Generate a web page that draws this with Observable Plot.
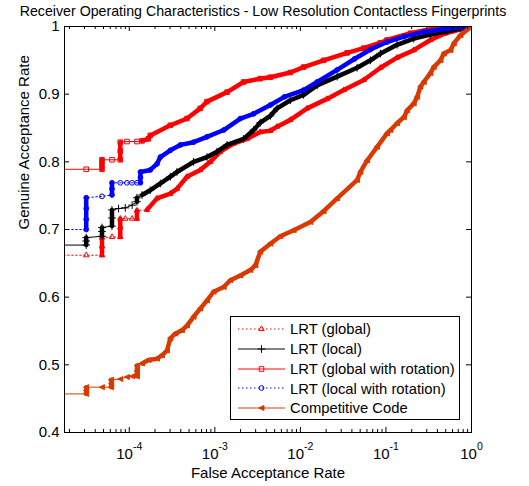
<!DOCTYPE html>
<html><head><meta charset="utf-8">
<script src="https://cdn.jsdelivr.net/npm/d3@7"></script>
<script src="https://cdn.jsdelivr.net/npm/@observablehq/plot@0.6"></script>
<style>body{margin:0;background:#fff;font-family:"Liberation Sans",Arial,sans-serif;}</style>
</head><body><div id="chart"></div>
<script>
// ---- data: [False Acceptance Rate, Genuine Acceptance Rate] ----
const lrtGlobal = [
 [1e-5,0.662],[3.14e-5,0.662],[4.80e-5,0.662],[4.80e-5,0.675],[4.80e-5,0.688],[6.28e-5,0.689],
 [7.85e-5,0.689],[7.85e-5,0.703],[7.85e-5,0.716],[8.98e-5,0.716],[1.08e-4,0.716],[1.23e-4,0.716],
 [1.23e-4,0.728],[1.61e-4,0.729],[2.11e-4,0.746],[3.02e-4,0.753],[3.61e-4,0.760],[4.73e-4,0.778],
 [6.76e-4,0.788],[8.85e-4,0.800],[1.16e-3,0.815],[1.66e-3,0.827],[2.38e-3,0.834],[3.40e-3,0.844],
 [4.46e-3,0.846],[5.34e-3,0.852],[7.64e-3,0.862],[1.20e-2,0.879],[2.05e-2,0.893],[3.21e-2,0.906],
 [5.50e-2,0.921],[8.63e-2,0.939],[0.135,0.954],[0.211,0.965],[0.331,0.980],[0.474,0.989],[1,1]
];
const lrtLocal = [
 [1e-5,0.677],[3.14e-5,0.677],[3.14e-5,0.683],[3.14e-5,0.688],[4.80e-5,0.690],[4.80e-5,0.697],
 [4.80e-5,0.703],[6.28e-5,0.705],[6.28e-5,0.717],[6.28e-5,0.729],[7.5e-5,0.731],[8.98e-5,0.732],
 [1.08e-4,0.736],[1.23e-4,0.741],[1.23e-4,0.747],[1.41e-4,0.751],[1.76e-4,0.758],[2.31e-4,0.768],
 [3.02e-4,0.778],[3.61e-4,0.785],[5.65e-4,0.800],[8.1e-4,0.807],[1.06e-3,0.815],[1.39e-3,0.825],
 [2.17e-3,0.834],[2.84e-3,0.847],[3.40e-3,0.858],[4.46e-3,0.868],[5.34e-3,0.879],[7.64e-3,0.891],
 [1.09e-2,0.899],[1.57e-2,0.913],[2.69e-2,0.926],[4.60e-2,0.939],[6.59e-2,0.950],[8.63e-2,0.960],
 [0.135,0.973],[0.211,0.982],[0.331,0.988],[0.52,0.993],[0.74,0.997],[1,1]
];
const lrtGlobalRot = [
 [1e-5,0.789],[3.14e-5,0.789],[4.80e-5,0.789],[4.80e-5,0.796],[4.80e-5,0.803],[6.28e-5,0.803],
 [7.85e-5,0.803],[7.85e-5,0.816],[7.85e-5,0.829],[9.4e-5,0.830],[1.23e-4,0.830],[1.41e-4,0.831],
 [1.67e-4,0.834],[1.76e-4,0.839],[3.02e-4,0.854],[4.73e-4,0.864],[6.76e-4,0.879],[8.1e-4,0.889],
 [1.39e-3,0.903],[2.17e-3,0.918],[3.40e-3,0.923],[4.46e-3,0.925],[7.64e-3,0.932],[1.09e-2,0.940],
 [1.87e-2,0.950],[3.52e-2,0.961],[5.50e-2,0.968],[8.63e-2,0.976],[0.103,0.980],[0.194,0.990],
 [0.362,0.997],[1,1]
];
const lrtLocalRot = [
 [1e-5,0.700],[3.14e-5,0.700],[3.14e-5,0.715],[3.14e-5,0.731],[3.14e-5,0.747],[4.80e-5,0.749],
 [6.28e-5,0.751],[6.28e-5,0.760],[6.28e-5,0.769],[7.85e-5,0.769],[9.4e-5,0.769],[1.08e-4,0.769],
 [1.23e-4,0.769],[1.35e-4,0.769],[1.35e-4,0.777],[1.35e-4,0.785],[1.76e-4,0.788],[2.11e-4,0.797],
 [2.31e-4,0.807],[3.02e-4,0.817],[3.95e-4,0.825],[5.65e-4,0.829],[8.1e-4,0.837],[1.27e-3,0.847],
 [1.99e-3,0.864],[2.84e-3,0.871],[4.46e-3,0.884],[6.5e-3,0.896],[1.09e-2,0.906],[1.57e-2,0.918],
 [2.69e-2,0.936],[4.28e-2,0.952],[6.59e-2,0.966],[0.103,0.977],[0.162,0.985],[0.277,0.992],
 [0.52,0.997],[1,1]
];
const competitiveCode = [
 [1e-5,0.457],[3.14e-5,0.457],[3.14e-5,0.462],[3.14e-5,0.467],[4.80e-5,0.467],[6.15e-5,0.467],
 [6.15e-5,0.472],[6.15e-5,0.478],[7.85e-5,0.479],[9.4e-5,0.482],[1.08e-4,0.483],[1.23e-4,0.483],
 [1.23e-4,0.491],[1.23e-4,0.499],[1.41e-4,0.502],[1.68e-4,0.507],[2.11e-4,0.509],[2.41e-4,0.514],
 [2.76e-4,0.521],[3.02e-4,0.539],[3.45e-4,0.546],[4.13e-4,0.551],[4.73e-4,0.558],[5.65e-4,0.571],
 [6.76e-4,0.583],[8.1e-4,0.595],[9.68e-4,0.608],[1.27e-3,0.615],[1.52e-3,0.625],[1.99e-3,0.632],
 [2.60e-3,0.640],[2.98e-3,0.647],[3.40e-3,0.667],[4.46e-3,0.679],[5.83e-3,0.690],[8.35e-3,0.699],
 [1.31e-2,0.711],[1.87e-2,0.727],[2.69e-2,0.746],[4.60e-2,0.773],[5.03e-2,0.785],[6.03e-2,0.802],
 [7.89e-2,0.822],[0.103,0.842],[0.113,0.847],[0.135,0.857],[0.162,0.866],[0.177,0.876],
 [0.211,0.886],[0.232,0.896],[0.253,0.911],[0.277,0.918],[0.331,0.931],[0.362,0.940],
 [0.434,0.950],[0.474,0.960],[0.568,0.965],[0.621,0.975],[0.743,0.987],[1,1]
];
const seriesNames = ["LRT (global)","LRT (local)","LRT (global with rotation)","LRT (local with rotation)","Competitive Code"];
const xMajorTicks = [1e-4,1e-3,1e-2,1e-1,1];
const xMinorTicks = [2e-5,3e-5,4e-5,5e-5,6e-5,7e-5,8e-5,9e-5,2e-4,3e-4,4e-4,5e-4,6e-4,7e-4,8e-4,9e-4,
 2e-3,3e-3,4e-3,5e-3,6e-3,7e-3,8e-3,9e-3,2e-2,3e-2,4e-2,5e-2,6e-2,7e-2,8e-2,9e-2,0.2,0.3,0.4,0.5,0.6,0.7,0.8,0.9];
const yTicks = [0.4,0.5,0.6,0.7,0.8,0.9,1];
const titleText = "Receiver Operating Characteristics - Low Resolution Contactless Fingerprints";
const xLabel = "False Acceptance Rate";
const yLabel = "Genuine Acceptance Rate";

// ---- styles ----
const leftTri = {draw(ctx, size){ const r = Math.sqrt(size/2); ctx.moveTo(-r,0); ctx.lineTo(r*0.9,-r*0.9); ctx.lineTo(r*0.9,r*0.9); ctx.closePath(); }};
const styles = [
 {color:"#ff0000", dash:"1.5,2.5", symbol:"triangle", fill:"none", r:2},
 {color:"#000000", dash:null, symbol:"plus", fill:"none", r:2.6},
 {color:"#ff0000", dash:null, symbol:"square", fill:"none", r:2.6},
 {color:"#0000ff", dash:"1.5,2.5", symbol:"circle", fill:"none", r:2.4},
 {color:"#d93a00", dash:null, symbol:leftTri, fill:"#d93a00", r:2.2}
];
const allSeries = [lrtGlobal, lrtLocal, lrtGlobalRot, lrtLocalRot, competitiveCode];

const W = 529, H = 486, mL = 64, mR = 58, mT = 26, mB = 54;
const fw = W - mL - mR, fh = H - mT - mB;
const font = '"Liberation Sans", Arial, sans-serif';

const marks = [];
allSeries.forEach((data, k) => {
  const s = styles[k];
  const pts = data.map(([far, gar]) => ({far, gar}));
  marks.push(Plot.line(pts, {x:"far", y:"gar", stroke:s.color, strokeWidth:1, strokeDasharray:s.dash, clip:true}));
  const thick = [];
  for (let i = 1; i < pts.length; i++) {
    const a = pts[i-1], b = pts[i];
    if (a.far === b.far || a.far >= 1.3e-4) thick.push({x1:a.far, y1:a.gar, x2:b.far, y2:b.gar});
  }
  marks.push(Plot.link(thick, {x1:"x1", y1:"y1", x2:"x2", y2:"y2", stroke:s.color, strokeWidth:4.5, strokeLinecap:"round", clip:true}));
  marks.push(Plot.dot(pts, {x:"far", y:"gar", symbol:s.symbol, stroke:s.color, fill:s.fill, r:s.r, strokeWidth:1, clip:true}));
});

const chart = Plot.plot({
  width: W, height: H,
  marginLeft: mL, marginRight: mR, marginTop: mT, marginBottom: mB,
  style: {fontFamily: font, background: "#fff", color: "#000"},
  x: {type: "log", domain: [1.75e-5, 1]},
  y: {domain: [0.4, 1]},
  marks: [
    ...marks,
    Plot.frame({stroke: "#000", strokeWidth: 1}),
    // inward ticks
    Plot.tickX(xMajorTicks, {x: d => d, insetTop: fh - 5, stroke: "#000"}),
    Plot.tickX(xMajorTicks, {x: d => d, insetBottom: fh - 5, stroke: "#000"}),
    Plot.tickX(xMinorTicks, {x: d => d, insetTop: fh - 3, stroke: "#000"}),
    Plot.tickX(xMinorTicks, {x: d => d, insetBottom: fh - 3, stroke: "#000"}),
    Plot.tickY(yTicks, {y: d => d, insetRight: fw - 5, stroke: "#000"}),
    Plot.tickY(yTicks, {y: d => d, insetLeft: fw - 5, stroke: "#000"}),
    // tick labels
    Plot.axisX(xMajorTicks, {anchor: "bottom", tickSize: 0, tickPadding: 16, fontSize: 15, label: null,
      tickFormat: d => "10^" + Math.round(Math.log10(d))}),
    Plot.axisY(yTicks, {anchor: "left", tickSize: 0, tickPadding: 5, fontSize: 15, label: null,
      tickFormat: d => d === 1 ? "1" : d.toFixed(1)}),
    // titles
    Plot.text([titleText], {frameAnchor: "top", lineAnchor: "middle", dy: -15.5, dx: -5, fontSize: 14.2, fill: "#000"}),
    Plot.text([xLabel], {frameAnchor: "bottom", lineAnchor: "middle", dy: 41, fontSize: 15, fill: "#000"}),
    Plot.text([yLabel], {frameAnchor: "left", lineAnchor: "middle", dx: -40, rotate: -90, fontSize: 15, fill: "#000"})
  ]
});
document.getElementById("chart").appendChild(chart);

const svg = d3.select(chart);
// superscript exponents on the x tick labels
svg.selectAll('g[aria-label="x-axis tick label"] text').each(function() {
  const m = this.textContent.match(/^10\^(.+)$/);
  if (!m) return;
  const el = d3.select(this);
  el.text(null);
  el.append("tspan").text("10");
  el.append("tspan").attr("dy", "-9").attr("font-size", "10.5").text(m[1]);
});

// legend
const lg = svg.append("g").attr("font-family", font).attr("text-anchor", "start");
lg.append("rect").attr("x", 230.5).attr("y", 316.5).attr("width", 229).attr("height", 103)
  .attr("fill", "#fff").attr("stroke", "#000");
const symMap = {triangle: d3.symbolTriangle, plus: d3.symbolPlus, square: d3.symbolSquare, circle: d3.symbolCircle};
seriesNames.forEach((name, i) => {
  const s = styles[i];
  const y = 329 + i * 19.8;
  const yl = Math.round(y);
  lg.append("line").attr("x1", 238).attr("x2", 285).attr("y1", yl).attr("y2", yl)
    .attr("stroke", s.color).attr("stroke-width", 1.3).attr("stroke-opacity", 0.65).attr("stroke-dasharray", s.dash);
  const type = typeof s.symbol === "string" ? symMap[s.symbol] : s.symbol;
  lg.append("path").attr("d", d3.symbol(type, Math.PI * s.r * s.r)())
    .attr("transform", `translate(261.5,${yl})`)
    .attr("fill", s.fill).attr("stroke", s.color);
  lg.append("text").attr("x", 290).attr("y", y).attr("dy", "0.35em").attr("text-anchor", "start")
    .attr("font-size", 14.8).attr("fill", "#000").text(name);
});
</script>
</body></html>
